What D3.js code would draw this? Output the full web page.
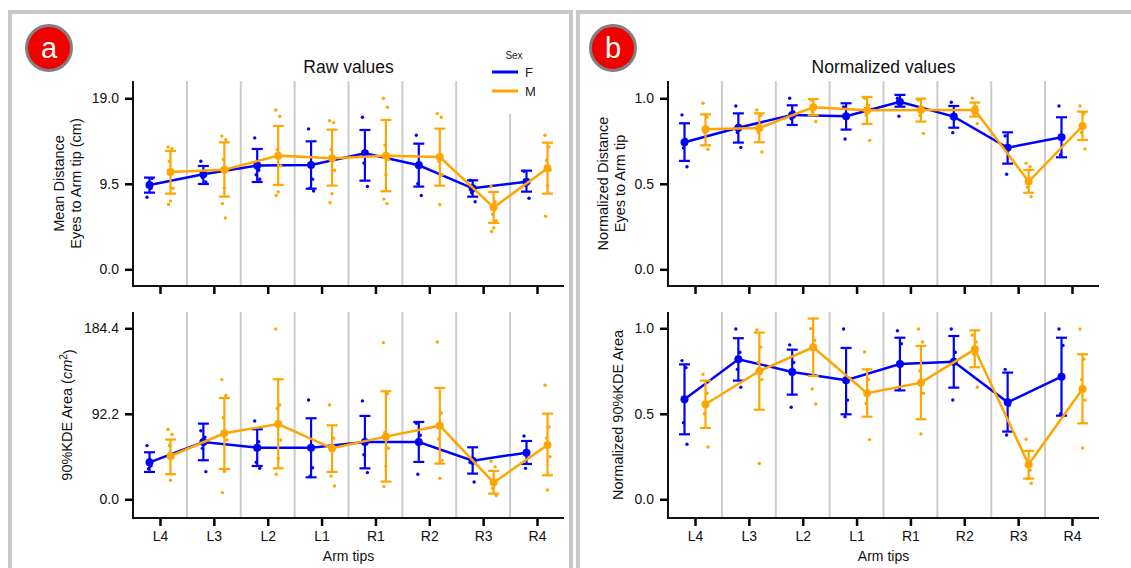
<!DOCTYPE html>
<html>
<head>
<meta charset="utf-8">
<script src="https://cdn.jsdelivr.net/npm/d3@7"></script>
<style>
body { margin: 0; background: #fff; }
svg { display: block; font-family: "Liberation Sans", Arial, sans-serif; }
</style>
</head>
<body>
<svg id="chart" width="1131" height="568"></svg>
<script>
var armTips = ["L4", "L3", "L2", "L1", "R1", "R2", "R3", "R4"];
var sexes = ["F", "M"];
var sexColors = ["#0000ff", "#ffa500"];

// raw distance eyes -> arm tip (cm)
var rawTicks = [0, 9.5, 19.0];
var rawMeanF = [9.37, 10.56, 11.52, 11.59, 12.89, 11.56, 9.0, 9.74];
var rawLowF  = [8.52, 9.48, 9.70, 8.96, 9.85, 9.19, 8.07, 8.63];
var rawHighF = [10.19, 11.48, 13.37, 14.22, 15.48, 13.96, 9.89, 10.96];
var rawDotsF = [[8.0, 9.0, 9.6, 10.1], [12.0, 10.9, 10.2, 9.7], [14.6, 11.0, 10.5, 10.0], [15.6, 10.0, 9.0, 8.7],
                [16.9, 12.9, 11.8, 9.2], [14.9, 11.8, 9.5, 8.2], [9.9, 9.0, 8.5, 7.5], [10.9, 9.8, 9.3, 7.9]];
var rawMeanM = [10.81, 11.07, 12.63, 12.33, 12.63, 12.48, 6.89, 11.22];
var rawLowM  = [8.41, 8.07, 9.37, 9.30, 8.67, 9.30, 5.15, 8.41];
var rawHighM = [13.15, 14.11, 15.93, 15.52, 16.59, 15.63, 8.59, 14.07];
var rawDotsM = [[13.6, 13.4, 12.0, 9.0, 7.6, 7.2], [14.8, 14.4, 12.2, 11.0, 9.0, 7.3, 5.7], [17.7, 17.0, 13.3, 11.5, 8.6, 8.2],
                [16.5, 16.3, 13.3, 11.0, 8.4, 7.4], [19.0, 18.0, 13.8, 12.2, 10.5, 7.8, 7.3], [17.3, 16.9, 12.0, 10.5, 7.2],
                [9.2, 7.5, 6.1, 5.4, 4.6, 4.2], [14.9, 13.6, 12.1, 11.0, 9.3, 5.9]];

// 90% KDE area (cm2)
var areaTicks = [0, 92.2, 184.4];
var areaMeanF = [39.9, 61.8, 55.7, 55.7, 61.8, 61.8, 41.7, 50.3];
var areaLowF  = [29.5, 42.1, 35.9, 23.7, 33.4, 40.3, 27.7, 38.1];
var areaHighF = [50.7, 81.6, 75.5, 87.4, 89.9, 83.4, 56.1, 62.9];
var areaDotsF = [[57.9, 36.0, 33.0], [74.0, 67.0, 55.0, 29.8], [84.5, 62.0, 40.0, 33.4], [107.1, 34.0, 25.0],
                 [106.1, 60.0, 48.0, 28.8], [82.0, 69.0, 27.0], [40.0, 18.7], [68.3, 50.0, 33.4]];
var areaMeanM = [46.7, 71.2, 81.2, 55.0, 67.6, 79.4, 18.0, 58.6];
var areaLowM  = [27.0, 32.7, 33.4, 29.5, 19.1, 38.5, 6.1, 25.9];
var areaHighM = [64.4, 109.3, 129.4, 79.8, 116.5, 120.1, 30.6, 92.4];
var areaDotsM = [[75.5, 70.0, 58.0, 45.0, 20.5], [129.1, 112.0, 88.0, 64.0, 30.0, 7.2], [183.7, 102.0, 98.0, 64.0, 44.0, 27.0],
                 [101.7, 66.0, 25.0, 14.4], [169.0, 114.0, 72.0, 55.0, 36.0, 13.7], [169.7, 93.0, 65.0, 42.0, 22.6],
                 [41.0, 35.0, 12.0, 4.0], [123.0, 78.0, 66.0, 46.0, 10.1]];

// normalized distance
var normTicks = [0, 0.5, 1.0];
var ndistMeanF = [0.743, 0.828, 0.903, 0.895, 0.979, 0.893, 0.711, 0.772];
var ndistLowF  = [0.634, 0.741, 0.844, 0.817, 0.951, 0.828, 0.618, 0.655];
var ndistHighF = [0.854, 0.912, 0.959, 0.971, 1.02, 0.955, 0.801, 0.889];
var ndistDotsF = [[0.903, 0.76, 0.71, 0.60], [0.955, 0.84, 0.80, 0.713], [1.0, 0.92, 0.88], [0.95, 0.90, 0.762],
                  [1.0, 0.97, 0.895], [0.977, 0.88, 0.799], [0.78, 0.72, 0.556], [0.955, 0.78, 0.67]];
var ndistMeanM = [0.819, 0.827, 0.947, 0.930, 0.932, 0.932, 0.513, 0.838];
var ndistLowM  = [0.725, 0.743, 0.901, 0.850, 0.864, 0.893, 0.448, 0.756];
var ndistHighM = [0.906, 0.912, 0.996, 1.008, 0.998, 0.975, 0.581, 0.922];
var ndistDotsM = [[0.971, 0.89, 0.80, 0.702], [0.932, 0.90, 0.80, 0.686], [0.99, 0.96, 0.92, 0.864], [1.0, 0.96, 0.90, 0.754],
                  [0.99, 0.95, 0.90, 0.795], [1.0, 0.95, 0.91, 0.852], [0.620, 0.60, 0.48, 0.425], [0.955, 0.91, 0.80, 0.704]];

// normalized area
var nareaMeanF = [0.585, 0.819, 0.745, 0.696, 0.791, 0.805, 0.567, 0.717];
var nareaLowF  = [0.380, 0.694, 0.612, 0.497, 0.637, 0.653, 0.396, 0.489];
var nareaHighF = [0.789, 0.942, 0.875, 0.885, 0.945, 0.955, 0.741, 0.945];
var nareaDotsF = [[0.811, 0.77, 0.448, 0.322], [0.996, 0.86, 0.76, 0.655], [0.903, 0.80, 0.538], [0.996, 0.58, 0.483],
                  [0.986, 0.91, 0.64], [0.996, 0.86, 0.581], [0.760, 0.55, 0.376], [0.996, 0.90, 0.50]];
var nareaMeanM = [0.556, 0.750, 0.889, 0.620, 0.682, 0.877, 0.203, 0.645];
var nareaLowM  = [0.417, 0.524, 0.721, 0.483, 0.468, 0.772, 0.121, 0.444];
var nareaHighM = [0.694, 0.975, 1.057, 0.760, 0.897, 0.988, 0.283, 0.848];
var nareaDotsM = [[0.731, 0.62, 0.50, 0.306], [0.990, 0.89, 0.80, 0.70, 0.209], [0.998, 0.93, 0.645, 0.557], [0.862, 0.70, 0.56, 0.349],
                  [0.996, 0.92, 0.75, 0.62, 0.382], [0.96, 0.92, 0.85, 0.655], [0.351, 0.17, 0.12, 0.094], [0.996, 0.82, 0.70, 0.58, 0.300]];

var svg = d3.select("#chart");
var jit = [-2.5, 1.5, -1, 2.5, 0, -2, 1];

// panel frames
svg.append("rect").attr("x", 10).attr("y", 12).attr("width", 561).attr("height", 580)
  .attr("fill", "none").attr("stroke", "#c8c8c8").attr("stroke-width", 4);
svg.append("rect").attr("x", 578).attr("y", 12).attr("width", 600).attr("height", 580)
  .attr("fill", "none").attr("stroke", "#c8c8c8").attr("stroke-width", 4);

function badge(cx, letter) {
  svg.append("circle").attr("cx", cx).attr("cy", 48).attr("r", 22.5)
    .attr("fill", "#f20000").attr("stroke", "#808080").attr("stroke-width", 3);
  svg.append("text").attr("x", cx).attr("y", 58).attr("text-anchor", "middle")
    .attr("fill", "#fff").attr("font-size", 29).text(letter);
}
badge(49, "a");
badge(613, "b");

function drawPanel(p) {
  var x = d3.scalePoint().domain(armTips).range(p.xr);
  var y = d3.scaleLinear().domain([0, p.ticks[2]]).range([p.y0, p.y1]);
  var g = svg.append("g");

  // separators
  for (var i = 0; i < armTips.length - 1; i++) {
    var sx = x(armTips[i]) + x.step() / 2;
    g.append("line").attr("x1", sx).attr("x2", sx).attr("y1", p.top).attr("y2", p.bottom)
      .attr("stroke", "#cccccc").attr("stroke-width", 2);
  }

  var yAxis = g.append("g").attr("transform", "translate(" + p.left + ",0)")
    .call(d3.axisLeft(y).tickValues(p.ticks).tickFormat(d3.format(".1f")).tickSize(8).tickPadding(6));
  yAxis.select(".domain").remove();
  yAxis.selectAll("line").attr("stroke-width", 2.5);
  yAxis.selectAll("text").attr("font-size", 14).attr("fill", "#111").attr("font-family", "Liberation Sans, Arial, sans-serif");

  var xAxis = g.append("g").attr("transform", "translate(0," + p.bottom + ")")
    .call(d3.axisBottom(x).tickSize(8).tickPadding(5));
  xAxis.select(".domain").remove();
  xAxis.selectAll("line").attr("stroke-width", 2.5);
  xAxis.selectAll("text").attr("font-size", 14).attr("fill", "#111").attr("font-family", "Liberation Sans, Arial, sans-serif");
  if (!p.xlabels) xAxis.selectAll("text").remove();

  g.append("line").attr("x1", p.left).attr("x2", p.left).attr("y1", p.top).attr("y2", p.bottom + 1)
    .attr("stroke", "#111").attr("stroke-width", 2);
  g.append("line").attr("x1", p.left - 1).attr("x2", p.right).attr("y1", p.bottom).attr("y2", p.bottom)
    .attr("stroke", "#111").attr("stroke-width", 2);

  p.series.forEach(function(s, si) {
    var off = si === 0 ? -10.5 : 10.5;
    var col = sexColors[si];
    var cx = function(k) { return x(armTips[k]) + off; };
    // strip points
    s.dots.forEach(function(list, k) {
      g.selectAll(null).data(list).enter().append("circle")
        .attr("cx", function(d, j) { return cx(k) + jit[j % jit.length]; })
        .attr("cy", function(d) { return y(d); })
        .attr("r", 1.7).attr("fill", col);
    });
    // error bars
    armTips.forEach(function(a, k) {
      g.append("line").attr("x1", cx(k)).attr("x2", cx(k)).attr("y1", y(s.low[k])).attr("y2", y(s.high[k]))
        .attr("stroke", col).attr("stroke-width", 2.2);
      [s.low[k], s.high[k]].forEach(function(v) {
        g.append("line").attr("x1", cx(k) - 5.5).attr("x2", cx(k) + 5.5).attr("y1", y(v)).attr("y2", y(v))
          .attr("stroke", col).attr("stroke-width", 2.2);
      });
    });
    g.append("path").datum(s.mean)
      .attr("d", d3.line().x(function(d, k) { return cx(k); }).y(function(d) { return y(d); }))
      .attr("fill", "none").attr("stroke", col).attr("stroke-width", 2.5);
    g.selectAll(null).data(s.mean).enter().append("circle")
      .attr("cx", function(d, k) { return cx(k); }).attr("cy", function(d) { return y(d); })
      .attr("r", 4).attr("fill", col);
  });

  if (p.title) {
    g.append("text").attr("x", (p.left + p.right) / 2).attr("y", 73).attr("text-anchor", "middle")
      .attr("font-size", 17.5).attr("fill", "#111").text(p.title);
  }
  if (p.xlabels) {
    g.append("text").attr("x", (p.left + p.right) / 2).attr("y", 561).attr("text-anchor", "middle")
      .attr("font-size", 14).attr("fill", "#111").text("Arm tips");
  }
  var cy = (p.top + p.bottom) / 2;
  p.ylab.forEach(function(lab, li) {
    var t = g.append("text").attr("transform", "translate(" + lab.x + "," + cy + ") rotate(-90)")
      .attr("text-anchor", "middle").attr("dy", "0.35em").attr("font-size", 14.5).attr("fill", "#111");
    if (lab.kde) {
      t.append("tspan").text("90%KDE Area (");
      t.append("tspan").attr("font-style", "italic").text("cm");
      t.append("tspan").attr("font-size", 10).attr("dy", "-0.5em").text("2");
      t.append("tspan").attr("dy", "0.5em").text(")");
    } else {
      t.text(lab.text);
    }
  });
  return g;
}

var leftX = [160, 537], rightX = [695, 1072];

var gRaw = drawPanel({
  xr: leftX, left: 133, right: 564, top: 81, bottom: 286, y0: 269.3, y1: 98.3,
  ticks: rawTicks, xlabels: false, title: "Raw values",
  ylab: [{x: 59, text: "Mean Distance"}, {x: 76, text: "Eyes to Arm tip (cm)"}],
  series: [{mean: rawMeanF, low: rawLowF, high: rawHighF, dots: rawDotsF},
           {mean: rawMeanM, low: rawLowM, high: rawHighM, dots: rawDotsM}]
});
drawPanel({
  xr: leftX, left: 133, right: 564, top: 312, bottom: 518, y0: 499.3, y1: 328.3,
  ticks: areaTicks, xlabels: true,
  ylab: [{x: 67, kde: true}],
  series: [{mean: areaMeanF, low: areaLowF, high: areaHighF, dots: areaDotsF},
           {mean: areaMeanM, low: areaLowM, high: areaHighM, dots: areaDotsM}]
});
drawPanel({
  xr: rightX, left: 668, right: 1099, top: 81, bottom: 286, y0: 269.3, y1: 98.3,
  ticks: normTicks, xlabels: false, title: "Normalized values",
  ylab: [{x: 603, text: "Normalized Distance"}, {x: 620, text: "Eyes to Arm tip"}],
  series: [{mean: ndistMeanF, low: ndistLowF, high: ndistHighF, dots: ndistDotsF},
           {mean: ndistMeanM, low: ndistLowM, high: ndistHighM, dots: ndistDotsM}]
});
drawPanel({
  xr: rightX, left: 668, right: 1099, top: 312, bottom: 518, y0: 499.3, y1: 328.3,
  ticks: normTicks, xlabels: true,
  ylab: [{x: 618, text: "Normalized 90%KDE Area"}],
  series: [{mean: nareaMeanF, low: nareaLowF, high: nareaHighF, dots: nareaDotsF},
           {mean: nareaMeanM, low: nareaLowM, high: nareaHighM, dots: nareaDotsM}]
});

// legend
var leg = svg.append("g");
leg.append("rect").attr("x", 486).attr("y", 42).attr("width", 62).attr("height", 72).attr("fill", "#fff");
leg.append("text").attr("x", 514).attr("y", 59).attr("text-anchor", "middle").attr("font-size", 10).attr("fill", "#222").text("Sex");
sexes.forEach(function(s, i) {
  var ly = 72 + i * 19;
  leg.append("line").attr("x1", 492).attr("x2", 518).attr("y1", ly).attr("y2", ly)
    .attr("stroke", sexColors[i]).attr("stroke-width", 3);
  leg.append("text").attr("x", 525).attr("y", ly).attr("dy", "0.35em").attr("font-size", 13).attr("fill", "#222").text(s);
});
</script>
</body>
</html>
